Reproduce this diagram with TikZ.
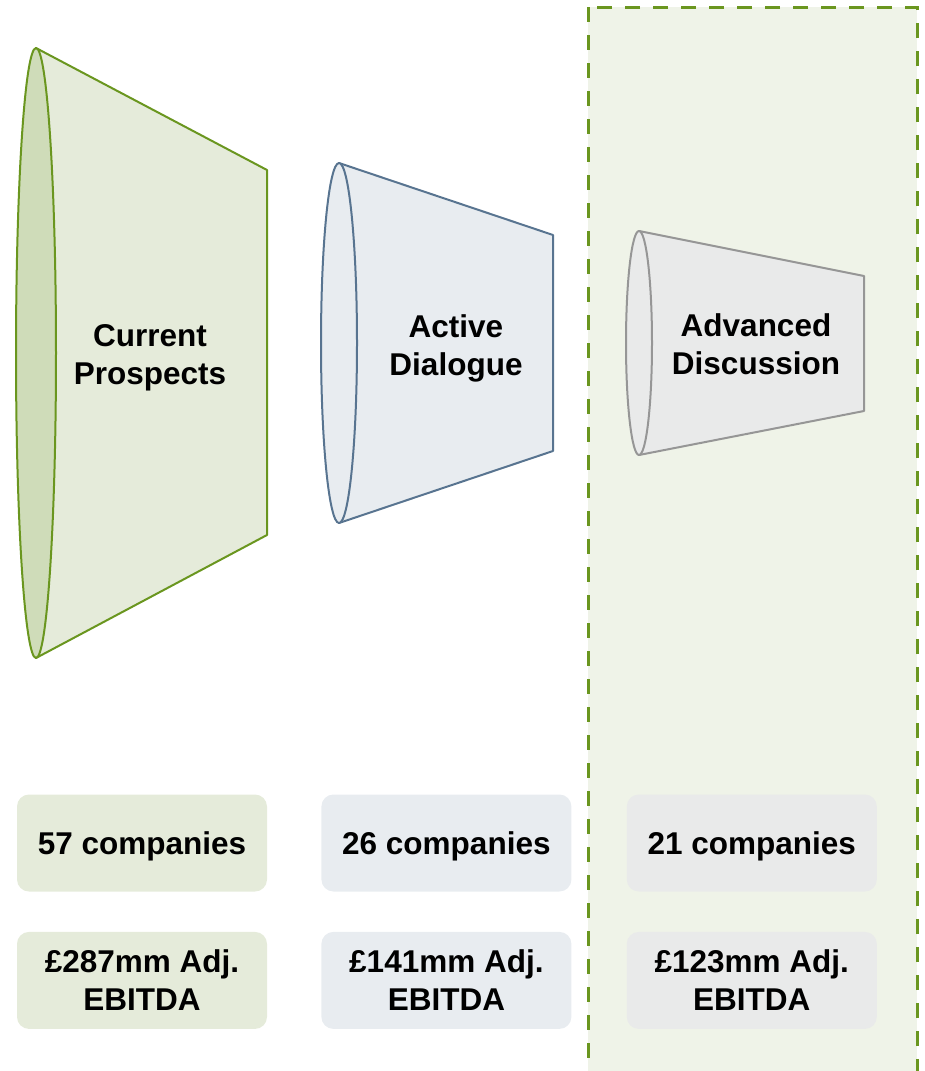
\documentclass[tikz,border=0pt]{standalone}
\usepackage{fontspec}
\setmainfont{Liberation Sans}
\usetikzlibrary{positioning}

\definecolor{leafline}{HTML}{6A961F}
\definecolor{leaffill}{HTML}{E5EBDA}
\definecolor{leafdark}{HTML}{CFDCB9}
\definecolor{slateline}{HTML}{587490}
\definecolor{slatefill}{HTML}{E8ECF0}
\definecolor{greyline}{HTML}{969696}
\definecolor{greyfill}{HTML}{E9EAEA}
\definecolor{panelfill}{HTML}{EFF3E8}

\begin{document}
\begin{tikzpicture}[x=1pt, y=-1pt, node distance={40pt},
  cone/.style = {line width=2pt, line join=round},
  stagetext/.style = {align=center, font=\bfseries\fontsize{31.5}{38}\selectfont},
  countbox/.style = {rounded corners=12pt, minimum width=250pt, minimum height=97pt,
    text depth=0pt, align=center, font=\bfseries\fontsize{31.5}{38}\selectfont}]
\useasboundingbox (0,0) rectangle (924,1071);
\clip (0,0) rectangle (924,1071);

% highlighted last stage
\draw[leafline, fill=panelfill, line width=3pt, dash pattern=on 15pt off 13pt]
  (588,7) rectangle (917,1090);

% funnel stages
\draw[cone, leafline, fill=leaffill] (36,48) -- (267,170) -- (267,535) -- (36,658) -- cycle;
\draw[cone, leafline, fill=leafdark] (36,353) ellipse [x radius=20, y radius=305];

\draw[cone, slateline, fill=slatefill] (339,163) -- (553,235) -- (553,451) -- (339,523) -- cycle;
\draw[cone, slateline, fill=slatefill] (339,343) ellipse [x radius=18, y radius=180];

\draw[cone, greyline, fill=greyfill] (639,231) -- (864,276) -- (864,411) -- (639,455) -- cycle;
\draw[cone, greyline, fill=greyfill] (639,343) ellipse [x radius=13, y radius=112];

\node[stagetext] (curr) at (150,358) {Current\\Prospects};
\node[stagetext] (actv) at (456,348) {Active\\Dialogue};
\node[stagetext] (advd) at (756,344) {Advanced\\Discussion};

% figures under each stage
\node[countbox, fill=leaffill] (c57) at (142,843) {57 companies};
\node[countbox, fill=slatefill] (c26) [right=54pt of c57] {26 companies};
\node[countbox, fill=greyfill] (c21) [right=55pt of c26] {21 companies};
\node[countbox, fill=leaffill] (e287) [below=40pt of c57] {£287mm Adj.\\EBITDA};
\node[countbox, fill=slatefill] (e141) [below=40pt of c26] {£141mm Adj.\\EBITDA};
\node[countbox, fill=greyfill] (e123) [below=40pt of c21] {£123mm Adj.\\EBITDA};
\end{tikzpicture}
\end{document}
